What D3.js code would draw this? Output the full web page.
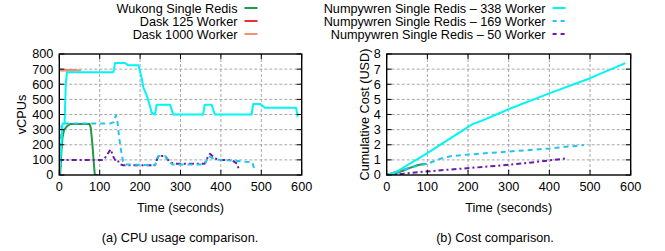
<!DOCTYPE html>
<html lang="en">
<head>
<meta charset="utf-8">
<script src="https://cdn.jsdelivr.net/npm/d3@7"></script>
<style>
body { margin:0; background:#fff; }
svg { display:block; font-family:"Liberation Sans", Arial, sans-serif; font-size:12.7px; }
line.grid { stroke:#a8a8a8; stroke-width:1; stroke-dasharray:3,2; }
rect.frame { fill:none; stroke:#000; stroke-width:1.4; }
line.tick { stroke:#000; stroke-width:1; }
path.series { fill:none; stroke-width:2; stroke-linejoin:round; }
</style>
</head>
<body>
<svg id="chart"></svg>
<script>

// ---- data (time in seconds) ----
var seriesNames = ['Wukong Single Redis', 'Dask 125 Worker', 'Dask 1000 Worker',
	'Numpywren Single Redis \u2013 338 Worker', 'Numpywren Single Redis \u2013 169 Worker', 'Numpywren Single Redis \u2013 50 Worker'];

// (a) vCPUs
var cpuWukong = [[2,0],[5,150],[8,250],[12,300],[20,325],[28,338],[75,338],[78,310],[82,200],[86,60],[88,0],[96,0]];
var cpuDask125 = [[2,693],[40,693]];
var cpuDask1000 = [[0,693],[54,693]];
var cpuNw338 = [[0,0],[5,200],[8,340],[13,340],[16,600],[19,680],[134,680],[138,740],[163,740],[171,725],[196,725],
	[204,640],[208,580],[216,530],[224,460],[229,410],[237,400],[241,465],[274,465],[282,400],[356,400],[360,465],
	[377,465],[385,400],[476,400],[480,470],[497,470],[509,445],[586,445],[590,385]];
var cpuNw169 = [[0,0],[3,200],[6,340],[125,340],[135,350],[140,395],[144,350],[148,250],[153,160],[158,90],[163,70],
	[237,65],[245,125],[262,125],[270,95],[280,70],[360,70],[370,125],[380,110],[395,100],[430,95],[460,88],[478,85],[484,25]];
var cpuNw50 = [[0,0],[4,100],[110,100],[127,170],[134,120],[138,100],[143,105],[150,70],[158,65],[237,65],[245,125],
	[262,125],[272,90],[282,75],[360,75],[368,120],[373,140],[385,110],[400,100],[425,100],[432,90],[440,75],[444,40]];

// (b) cumulative cost, USD
var costWukong = [[0,0],[20,0.1],[40,0.27],[60,0.5],[75,0.65],[90,0.72],[98,0.73]];
var costDask125 = [[2,0.02],[40,0.35]];
var costDask1000 = [[0,0],[54,0.47]];
var costNw338 = [[0,0],[20,0.15],[100,1.45],[210,3.35],[230,3.55],[300,4.35],[400,5.4],[500,6.4],[587,7.4]];
var costNw169 = [[0,0],[20,0.15],[60,0.5],[100,0.75],[120,0.95],[140,1.15],[160,1.25],[200,1.35],[300,1.55],[400,1.75],[485,1.98]];
var costNw50 = [[0,0],[40,0.08],[82,0.2],[221,0.5],[303,0.68],[380,0.9],[443,1.1]];

var xTicks = [0,100,200,300,400,500,600];
var cpuTicks = [0,100,200,300,400,500,600,700,800];
var costTicks = [0,1,2,3,4,5,6,7,8];

// ---- styles ----
var colors = ['#1f9a48','#e8332c','#f4906c','#00f5f5','#22c4f0','#6e1aa8'];
var dashes = [null, null, null, null, '5,4', '5,3,2,3'];
var drawOrder = [1,2,0,5,4,3];

var w = 665, h = 251;
var svg = d3.select('#chart').attr('width', w).attr('height', h);

function drawPanel(spec){
	var x = d3.scaleLinear().domain([0,600]).range([spec.left, spec.right]);
	var y = d3.scaleLinear().domain(spec.ydomain).range([spec.bottom, spec.top]);
	var g = svg.append('g');
	var clipId = 'clip' + spec.id;
	svg.append('clipPath').attr('id', clipId).append('rect')
		.attr('x', spec.left).attr('y', spec.top - 2)
		.attr('width', spec.right - spec.left).attr('height', spec.bottom - spec.top + 2);

	// grid
	g.selectAll('line.gx').data(xTicks.slice(1, -1)).enter().append('line')
		.attr('class','grid')
		.attr('x1', function(d){return x(d);}).attr('x2', function(d){return x(d);})
		.attr('y1', spec.top).attr('y2', spec.bottom);
	g.selectAll('line.gy').data(spec.yticks.slice(1, -1)).enter().append('line')
		.attr('class','grid')
		.attr('y1', function(d){return y(d);}).attr('y2', function(d){return y(d);})
		.attr('x1', spec.left).attr('x2', spec.right);

	// series
	var line = d3.line().x(function(d){return x(d[0]);}).y(function(d){return y(d[1]);});
	var sg = g.append('g').attr('clip-path', 'url(#' + clipId + ')');
	drawOrder.forEach(function(i){
		sg.append('path').attr('class','series')
			.attr('d', line(spec.data[i]))
			.attr('stroke', colors[i])
			.attr('stroke-dasharray', dashes[i]);
	});

	// frame and inward ticks on all four sides
	g.append('rect').attr('class','frame')
		.attr('x', spec.left).attr('y', spec.top)
		.attr('width', spec.right - spec.left).attr('height', spec.bottom - spec.top);
	var tl = 5;
	xTicks.forEach(function(d){
		g.append('line').attr('class','tick').attr('x1', x(d)).attr('x2', x(d)).attr('y1', spec.bottom).attr('y2', spec.bottom - tl);
		g.append('line').attr('class','tick').attr('x1', x(d)).attr('x2', x(d)).attr('y1', spec.top).attr('y2', spec.top + tl);
	});
	spec.yticks.forEach(function(d){
		g.append('line').attr('class','tick').attr('y1', y(d)).attr('y2', y(d)).attr('x1', spec.left).attr('x2', spec.left + tl);
		g.append('line').attr('class','tick').attr('y1', y(d)).attr('y2', y(d)).attr('x1', spec.right).attr('x2', spec.right - tl);
	});

	// labels
	g.selectAll('text.xl').data(xTicks).enter().append('text')
		.attr('x', function(d){return x(d);}).attr('y', spec.bottom + 16)
		.attr('text-anchor','middle').text(function(d){return d;});
	g.selectAll('text.yl').data(spec.yticks).enter().append('text')
		.attr('x', spec.left - 6).attr('y', function(d){return y(d);})
		.attr('dy','0.35em').attr('text-anchor','end').text(function(d){return d;});
	g.append('text').attr('x', (spec.left + spec.right) / 2).attr('y', 211.5)
		.attr('text-anchor','middle').text('Time (seconds)');
	g.append('text').attr('transform','translate(' + spec.ylabelX + ',' + ((spec.top + spec.bottom) / 2) + ') rotate(-90)')
		.attr('dy','0.35em').attr('text-anchor','middle').text(spec.ylabel);
	g.append('text').attr('x', spec.captionX).attr('y', 241.5)
		.attr('text-anchor','middle').text(spec.caption);
}

drawPanel({
	id:'a', left:59.3, right:301.7, top:54, bottom:175,
	ydomain:[0,800], yticks:cpuTicks, ylabel:'vCPUs', ylabelX:22,
	caption:'(a) CPU usage comparison.', captionX:180,
	data:[cpuWukong, cpuDask125, cpuDask1000, cpuNw338, cpuNw169, cpuNw50]
});
drawPanel({
	id:'b', left:386.7, right:630.7, top:54, bottom:175,
	ydomain:[0,8], yticks:costTicks, ylabel:'Cumulative Cost (USD)', ylabelX:365,
	caption:'(b) Cost comparison.', captionX:495,
	data:[costWukong, costDask125, costDask1000, costNw338, costNw169, costNw50]
});

// legend
var legend = svg.append('g');
seriesNames.forEach(function(name, i){
	var col = i < 3 ? 0 : 1, row = i % 3;
	var tx = col ? 545.6 : 237.5, by = 12.5 + row * 13;
	legend.append('text').attr('x', tx).attr('y', by).attr('text-anchor','end').text(name);
	legend.append('line')
		.attr('x1', tx + 7).attr('x2', tx + 20)
		.attr('y1', by - 4.5).attr('y2', by - 4.5)
		.attr('stroke', colors[i]).attr('stroke-width', 2)
		.attr('stroke-dasharray', dashes[i] ? '4,4' : null);
});

</script>
</body>
</html>
